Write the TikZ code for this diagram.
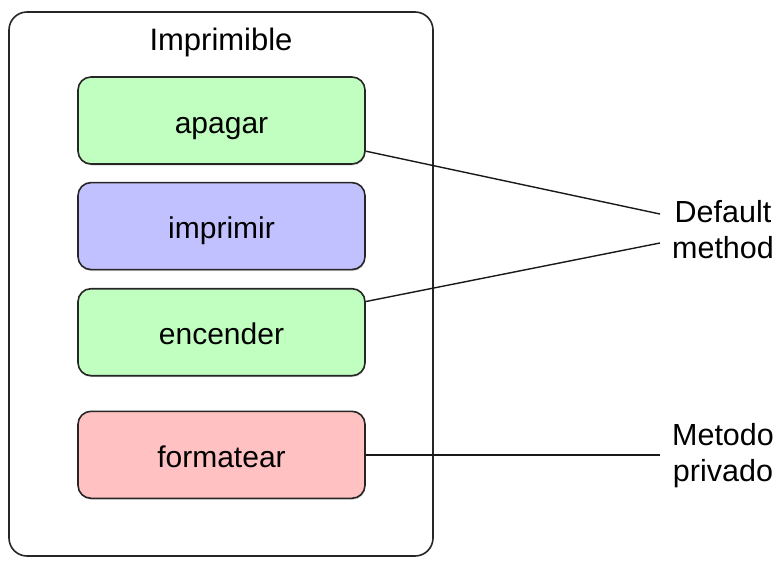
\documentclass[tikz,border=0pt]{standalone}
\usepackage{fontspec}
\setmainfont{Liberation Sans}
\usetikzlibrary{positioning,calc,shadows}
\definecolor{defgreen}{RGB}{193,255,193}
\definecolor{absblue}{RGB}{193,193,255}
\definecolor{privred}{RGB}{255,193,193}
\tikzset{
  iface/.style={draw=black!85,line width=1.6pt,rounded corners=18pt,
               minimum width=424pt,minimum height=544pt,inner sep=0pt},
  method/.style={draw=black!85,line width=1.6pt,rounded corners=13pt,
                minimum width=287pt,minimum height=87pt,inner sep=0pt,
                text height=25pt,text depth=0pt,
                font=\fontsize{30}{36}\selectfont,
                drop shadow={opacity=0.3,shadow xshift=0.5pt,shadow yshift=-1.5pt}},
  defmethod/.style={method,fill=defgreen},
  absmethod/.style={method,fill=absblue},
  privmethod/.style={method,fill=privred},
  note/.style={align=center,inner xsep=12pt,inner ysep=0pt,
              font=\fontsize{30.5}{36}\selectfont},
  link/.style={line width=1.4pt,black!90},
}
\begin{document}
\begin{tikzpicture}[x=1pt,y=-1pt]
  \useasboundingbox (0,0) rectangle (783,560);
  \node[iface] (imprimible) at (221,284) {};
  \node[font=\fontsize{31}{36}\selectfont] (titulo) at ($(imprimible.north)+(0,31)$) {Imprimible};

  \node[defmethod] (apagar) at (221.5,120.5) {apagar};
  \node[absmethod,below=17pt of apagar] (imprimir) {imprimir};
  \node[defmethod,below=17.5pt of imprimir] (encender) {encender};
  \node[privmethod,below=34pt of encender] (formatear) {formatear};

  \node[note] (deflt) at (723,230) {Default\\method};
  \node[note] (metodo) at (723,456) {Metodo\\privado};

  \draw[link] (apagar.-12) -- ($(deflt.west)+(0,-16)$);
  \draw[link] (encender.12) -- ($(deflt.west)+(0,13)$);
  \draw[link] (formatear.east) -- (formatear.east -| metodo.west);
\end{tikzpicture}
\end{document}
